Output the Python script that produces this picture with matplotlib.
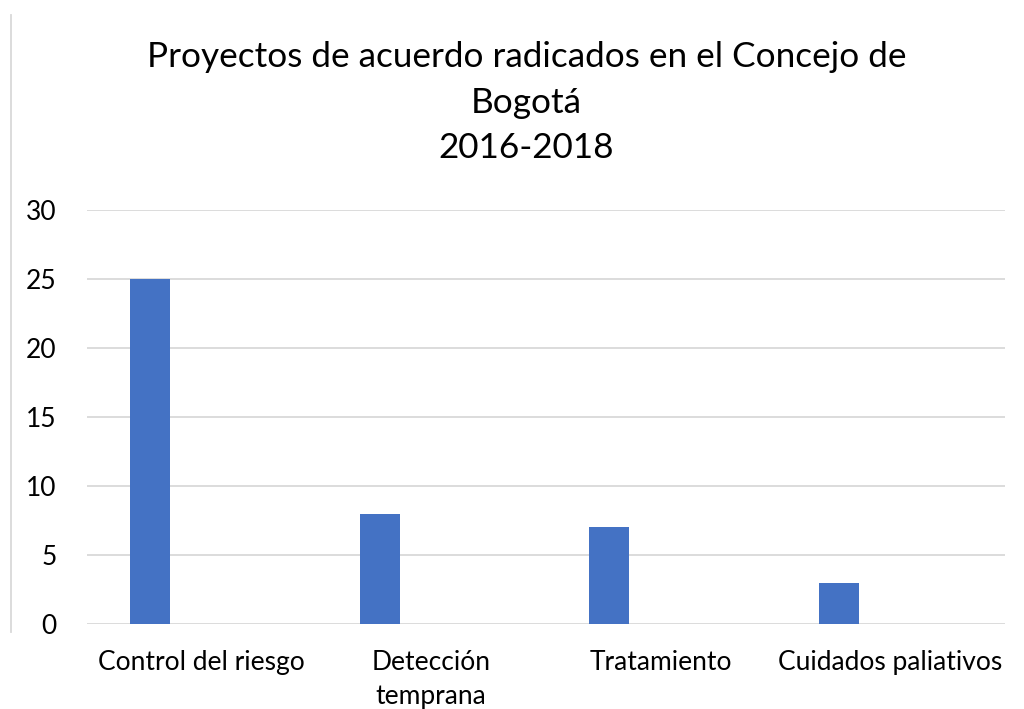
import numpy as np
import matplotlib.pyplot as plt
from matplotlib.lines import Line2D

# chart data
categorias = ["Control del riesgo", "Detección\ntemprana", "Tratamiento", "Cuidados paliativos"]
proyectos = [25, 8, 7, 3]
titulo = "Proyectos de acuerdo radicados en el Concejo de\nBogotá\n2016-2018"

plt.rcParams['font.family'] = ['Lato', 'DejaVu Sans']

fig = plt.figure(figsize=(10.24, 7.09), dpi=100)
ax = fig.add_axes([87/1024, 1 - 624/709, 918/1024, 414/709])

x = np.arange(len(categorias))
ax.bar(x - 0.225, proyectos, width=0.174, color="#4472c4", zorder=3)

ax.set_xlim(-0.5, len(categorias) - 0.5)
ax.set_ylim(0, 30)
ax.set_yticks(np.arange(0, 31, 5))
ax.set_xticks(x)
ax.set_xticklabels(categorias, linespacing=1.45)
ax.tick_params(axis="y", length=0, pad=22, labelsize=19)
ax.tick_params(axis="x", length=0, pad=19, labelsize=19)
ax.grid(axis="y", color="#d9d9d9", linewidth=1.3, zorder=0)
for s in ax.spines.values():
    s.set_visible(False)

fig.text(526.5/1024, 1 - 41/709, titulo, ha="center", va="top", fontsize=25.3, linespacing=1.52)

# leftover chart border on the left
fig.add_artist(Line2D([10.5/1024, 10.5/1024], [1 - 15/709, 1 - 632/709],
                      color="#d9d9d9", linewidth=1.3))

fig.savefig("out.png", dpi=100)
